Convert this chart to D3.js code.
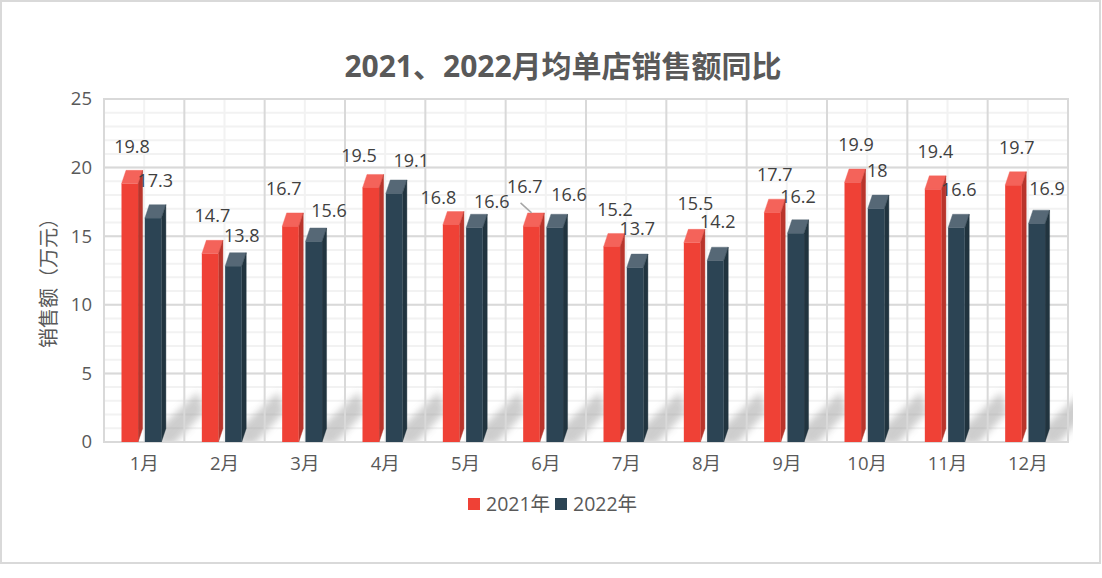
<!DOCTYPE html>
<html><head><meta charset="utf-8">
<script src="https://cdn.jsdelivr.net/npm/d3@7/dist/d3.min.js"></script>
<style>html,body{margin:0;background:#fff}svg{display:block}
text{font-family:"Open Sans","Noto Sans CJK SC",sans-serif}</style></head>
<body><svg id="c" width="1102" height="578"></svg>
<script>
const categories=["1月","2月","3月","4月","5月","6月","7月","8月","9月","10月","11月","12月"];
const seriesNames=["2021年","2022年"];
const values2021=[19.8,14.7,16.7,19.5,16.8,16.7,15.2,15.5,17.7,19.9,19.4,19.7];
const values2022=[17.3,13.8,15.6,19.1,16.6,16.6,13.7,14.2,16.2,18,16.6,16.9];
const yTicks=[0,5,10,15,20,25];
const minorTicks=d3.range(0,26);
// label nudges (px) relative to the default spot above each bar
const nudge2021=[[0,0],[0,-1],[-9,0],[-14,5],[-15,10],[-9,-2],[1,0],[1,-2],[0,0],[1,0],[0,0],[1,0]];
const nudge2022=[[0,0],[6,7],[13,7],[15,5],[15,11],[12,4],[0,-1],[0,-1],[0,1],[-1,0],[0,-1],[8,3]];

const svg=d3.select("#c");
const L=104,R=1068,T=99,B=442;
const x=d3.scaleBand().domain(categories).range([L,R]);
const y=d3.scaleLinear().domain([0,25]).range([B,T]);
const barW=16.6,dx=4.5,dy=13.5,lead=17.5,gap=24,step=23.3;
const colors=[{f:"#ef4136",t:"#f4635a",s:"#b9342b"},{f:"#2c4454",t:"#566876",s:"#21343f"}];

svg.append("rect").attr("x",1).attr("y",1).attr("width",1099).attr("height",562)
  .attr("fill","#fff").attr("stroke","#d9d9d9").attr("stroke-width",2);

const defs=svg.append("defs");
defs.append("filter").attr("id","blur").attr("x","-60%").attr("y","-60%").attr("width","220%").attr("height","220%")
  .append("feGaussianBlur").attr("stdDeviation",3.5);
defs.append("clipPath").attr("id","plot").append("rect").attr("x",L).attr("y",T).attr("width",R-L+5).attr("height",B-T);

const g=svg.append("g");
g.selectAll("line.mh").data(minorTicks).join("line")
  .attr("x1",L).attr("x2",R).attr("y1",d=>y(d)).attr("y2",d=>y(d)).attr("stroke","#f2f2f2").attr("stroke-width",2);
g.selectAll("line.mv").data(categories).join("line")
  .attr("x1",d=>x(d)+x.bandwidth()/2).attr("x2",d=>x(d)+x.bandwidth()/2).attr("y1",T).attr("y2",B).attr("stroke","#f2f2f2").attr("stroke-width",2);

// diagonal soft shadows
const shadow=svg.append("g").attr("clip-path","url(#plot)");
categories.forEach(c=>{
  const x1=x(c)+lead+step+barW+dx;
  shadow.append("path").attr("d",`M${x1-6},${B-14}L${x1+32},${B-50}L${x1+38},${B-30}L${x1+8},${B+2}L${x1-6},${B+2}Z`)
    .attr("fill","#8a8a8a").attr("opacity",.42).attr("filter","url(#blur)");
});

const grid=svg.append("g");
grid.selectAll("line.gh").data(yTicks).join("line")
  .attr("x1",L-1).attr("x2",R+1).attr("y1",d=>y(d)).attr("y2",d=>y(d)).attr("stroke","#d9d9d9").attr("stroke-width",2);
grid.selectAll("line.gv").data(d3.range(0,categories.length+1)).join("line")
  .attr("x1",i=>L+i*x.bandwidth()).attr("x2",i=>L+i*x.bandwidth()).attr("y1",T).attr("y2",B+1).attr("stroke","#d9d9d9").attr("stroke-width",2);

// bars
[values2021,values2022].forEach((vals,i)=>{
  const s=svg.append("g");
  const c=colors[i];
  vals.forEach((v,k)=>{
    const x0=x(categories[k])+lead+i*step, x1=x0+barW, yb=y(v), yf=yb+dy;
    s.append("path").attr("d",`M${x0},${yf}L${x0+dx},${yb}L${x1+dx},${yb}L${x1},${yf}Z`).attr("fill",c.t).attr("stroke",c.t).attr("stroke-width",.4);
    s.append("path").attr("d",`M${x1},${yf}L${x1+dx},${yb}L${x1+dx},${B-dy}L${x1},${B}Z`).attr("fill",c.s).attr("stroke",c.s).attr("stroke-width",.4);
    s.append("rect").attr("x",x0).attr("y",yf).attr("width",barW).attr("height",B-yf).attr("fill",c.f);
  });
});

// leader line
const k6=categories.indexOf("6月");
svg.append("line").attr("x1",x(categories[k6])+1.5+x.bandwidth()/6).attr("x2",x(categories[k6])+x.bandwidth()/6+12.5)
  .attr("y1",y(values2021[k6])-10).attr("y2",y(values2021[k6])).attr("stroke","#a6a6a6").attr("stroke-width",1.5);

// data labels
[[values2021,nudge2021],[values2022,nudge2022]].forEach(([vals,n],i)=>{
  svg.append("g").selectAll("text").data(vals).join("text")
    .attr("x",(v,k)=>x(categories[k])+lead+i*step+(barW+dx)/2+n[k][0])
    .attr("y",(v,k)=>y(v)-gap+n[k][1])
    .attr("dy","0.35em").attr("text-anchor","middle").attr("font-size",18).attr("fill","#404040")
    .text(v=>v);
});

// axes
const yAxis=d3.axisLeft(y).tickValues(yTicks).tickSize(0).tickPadding(12);
svg.append("g").attr("transform",`translate(${L},0)`).call(yAxis)
  .call(a=>a.select(".domain").remove())
  .call(a=>a.selectAll("text").attr("font-size",18.5).attr("fill","#595959").attr("font-family",null));
const xAxis=d3.axisBottom(x).tickSize(0).tickPadding(15);
svg.append("g").attr("transform",`translate(0,${B})`).call(xAxis)
  .call(a=>a.select(".domain").remove())
  .call(a=>a.selectAll("text").attr("font-size",18.5).attr("fill","#595959").attr("font-family",null));

svg.append("text").attr("x",563).attr("y",66).attr("dy","0.35em").attr("text-anchor","middle")
  .attr("font-size",30).attr("font-weight",700).attr("fill","#595959").text("2021、2022月均单店销售额同比");
svg.append("text").attr("transform","translate(49,278) rotate(-90)").attr("dy","0.35em").attr("text-anchor","middle")
  .attr("font-size",20).attr("fill","#595959").text("销售额（万元）");

// legend
const lg=svg.append("g");
seriesNames.forEach((n,i)=>{
  const lx=468+i*87;
  lg.append("rect").attr("x",lx).attr("y",498).attr("width",12).attr("height",12).attr("fill",colors[i].f);
  lg.append("text").attr("x",lx+18).attr("y",504).attr("dy","0.35em").attr("font-size",19.5).attr("fill","#595959").text(n);
});
</script></body></html>
